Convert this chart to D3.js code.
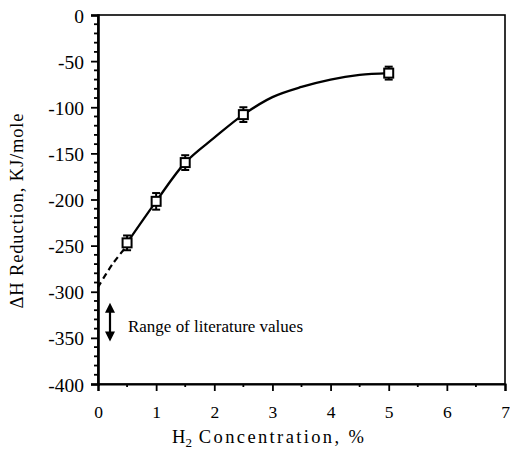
<!DOCTYPE html>
<html>
<head>
<meta charset="utf-8">
<script src="https://cdn.jsdelivr.net/npm/d3@7"></script>
<style>
  html, body { margin: 0; padding: 0; background: #fff; }
  svg { display: block; }
  svg text { font-family: 'Liberation Serif', 'Times New Roman', serif !important; fill: #000; }
</style>
</head>
<body>
<svg id="chart" width="510" height="456"></svg>
<script>
// Measured enthalpy of reduction vs hydrogen concentration
const concentration = [0.5, 1.0, 1.5, 2.5, 5.0];
const deltaH = [-247, -202, -160, -108, -63];
const errorBar = [8, 9, 8, 8, 7];

// Smooth trend drawn through the measurements
const fitX = [0.5, 1.0, 1.5, 2.0, 2.5, 3.0, 3.5, 4.0, 4.5, 5.0];
const fitY = [-247, -202, -160, -133, -108, -89, -78, -70, -65, -63];

// Dashed extrapolation to zero concentration
const extrapX = [0.0, 0.25, 0.5];
const extrapY = [-295, -270, -250];

// Literature range shown as a double arrow
const literatureRange = [-312, -354];

const xTicks = [0, 1, 2, 3, 4, 5, 6, 7];
const yTicks = [0, -50, -100, -150, -200, -250, -300, -350, -400];

const svg = d3.select("#chart");
const plotLeft = 98, plotRight = 505, plotTop = 15, plotBottom = 384;

const x = d3.scaleLinear().domain([0, 7]).range([plotLeft, plotRight]);
const y = d3.scaleLinear().domain([-400, 0]).range([plotBottom, plotTop]);

// Frame
svg.append("rect")
  .attr("x", plotLeft).attr("y", plotTop)
  .attr("width", plotRight - plotLeft).attr("height", plotBottom - plotTop)
  .attr("fill", "none").attr("stroke", "#000").attr("stroke-width", 1.6);

// Y axis: major ticks every 50, minor every 10
const yAxis = d3.axisLeft(y).tickValues(yTicks).tickSize(7).tickPadding(7)
  .tickFormat(d => String(d));
const gy = svg.append("g").attr("transform", `translate(${plotLeft},0)`).call(yAxis);
gy.attr("font-size", 19.5);
gy.select(".domain").attr("stroke-width", 2.6);
gy.selectAll(".tick line").attr("stroke-width", 1.8);
gy.selectAll(".tick text").attr("dy", "0.36em");
const yMinor = d3.range(-400, 1, 10).filter(v => v % 50 !== 0);
svg.append("g").selectAll("line").data(yMinor).join("line")
  .attr("x1", plotLeft - 4).attr("x2", plotLeft)
  .attr("y1", d => y(d)).attr("y2", d => y(d))
  .attr("stroke", "#000").attr("stroke-width", 1.8);

// X axis: major ticks at integers, minor at halves
const xAxis = d3.axisBottom(x).tickValues(xTicks).tickSize(7).tickPadding(15)
  .tickFormat(d => String(d));
const gx = svg.append("g").attr("transform", `translate(0,${plotBottom})`).call(xAxis);
gx.attr("font-size", 17.5);
gx.select(".domain").attr("stroke-width", 2.2);
gx.selectAll(".tick line").attr("stroke-width", 1.8);
const xMinor = d3.range(0.5, 7, 1);
svg.append("g").selectAll("line").data(xMinor).join("line")
  .attr("x1", d => x(d)).attr("x2", d => x(d))
  .attr("y1", plotBottom).attr("y2", plotBottom + 3)
  .attr("stroke", "#000").attr("stroke-width", 1.8);

// Axis titles
svg.append("text")
  .attr("transform", `translate(23,211) rotate(-90)`)
  .attr("text-anchor", "middle")
  .attr("font-size", 18.5)
  .attr("textLength", 195)
  .attr("lengthAdjust", "spacing")
  .text("\u0394H Reduction, KJ/mole");

const xt = svg.append("text")
  .attr("x", 172).attr("y", 443)
  .attr("font-size", 18.5);
xt.append("tspan").text("H");
xt.append("tspan").attr("dy", 4).attr("font-size", 13).text("2");
xt.append("tspan").attr("dy", -4)
  .attr("textLength", 172).attr("lengthAdjust", "spacing")
  .text(" Concentration, %");

// Extrapolated segment
const line = d3.line().x(d => x(d[0])).y(d => y(d[1])).curve(d3.curveCatmullRom);
svg.append("path")
  .datum(d3.zip(extrapX, extrapY))
  .attr("d", line)
  .attr("fill", "none").attr("stroke", "#000")
  .attr("stroke-width", 2.2).attr("stroke-dasharray", "6,4");

// Fitted trend
svg.append("path")
  .datum(d3.zip(fitX, fitY))
  .attr("d", line)
  .attr("fill", "none").attr("stroke", "#000").attr("stroke-width", 2.3);

// Error bars
const pts = d3.zip(concentration, deltaH, errorBar);
const eb = svg.append("g").attr("stroke", "#000").attr("stroke-width", 2);
eb.selectAll("line.v").data(pts).join("line").attr("class", "v")
  .attr("x1", d => x(d[0])).attr("x2", d => x(d[0]))
  .attr("y1", d => y(d[1] + d[2])).attr("y2", d => y(d[1] - d[2]));
eb.selectAll("line.t").data(pts).join("line").attr("class", "t")
  .attr("x1", d => x(d[0]) - 4).attr("x2", d => x(d[0]) + 4)
  .attr("y1", d => y(d[1] + d[2])).attr("y2", d => y(d[1] + d[2]));
eb.selectAll("line.b").data(pts).join("line").attr("class", "b")
  .attr("x1", d => x(d[0]) - 4).attr("x2", d => x(d[0]) + 4)
  .attr("y1", d => y(d[1] - d[2])).attr("y2", d => y(d[1] - d[2]));

// Square markers
svg.append("g").selectAll("rect").data(pts).join("rect")
  .attr("x", d => x(d[0]) - 4.5).attr("y", d => y(d[1]) - 4.5)
  .attr("width", 9).attr("height", 9)
  .attr("fill", "#fff").attr("stroke", "#000").attr("stroke-width", 2);

// Literature range arrow
const ax = 110;
const ay1 = y(literatureRange[0]), ay2 = y(literatureRange[1]);
svg.append("line")
  .attr("x1", ax).attr("x2", ax).attr("y1", ay1 + 6).attr("y2", ay2 - 6)
  .attr("stroke", "#000").attr("stroke-width", 2.2);
svg.append("path")
  .attr("d", `M${ax},${ay1} L${ax - 5},${ay1 + 10} L${ax + 5},${ay1 + 10} Z M${ax},${ay2} L${ax - 5},${ay2 - 10} L${ax + 5},${ay2 - 10} Z`)
  .attr("fill", "#000");
svg.append("text")
  .attr("x", 128).attr("y", 332)
  .attr("font-size", 17)
  .attr("textLength", 175)
  .attr("lengthAdjust", "spacing")
  .text("Range of literature values");
</script>
</body>
</html>
